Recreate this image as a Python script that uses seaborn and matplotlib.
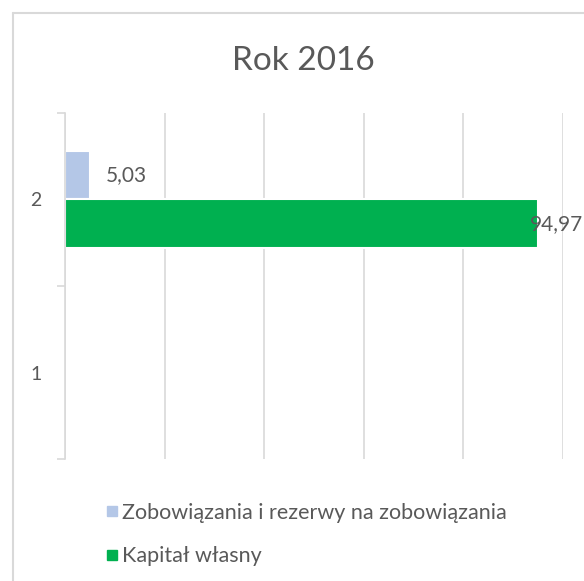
import numpy as np
import pandas as pd
import matplotlib.pyplot as plt
from matplotlib.lines import Line2D
import seaborn as sns

# data
categories = ["1", "2"]
series_names = ["Zobowiązania i rezerwy na zobowiązania", "Kapitał własny"]
liabilities = [np.nan, 5.03]
equity = [np.nan, 94.97]
colors = ["#B4C7E7", "#00B050"]
grid_ticks = [0, 20, 40, 60, 80, 100]

df = pd.DataFrame({
    "kategoria": categories * 2,
    "seria": [series_names[0]] * 2 + [series_names[1]] * 2,
    "wartosc": liabilities + equity,
})

sns.set_theme(style="white")
plt.rcParams["font.family"] = ["Lato", "DejaVu Sans"]
text_col = "#595959"
grid_col = "#D9D9D9"

fig = plt.figure(figsize=(5.84, 5.81), dpi=100)
W, H = 584, 581
ax = fig.add_axes([65 / W, 1 - 459 / H, (563 - 65) / W, (459 - 113) / H])

sns.barplot(data=df, x="wartosc", y="kategoria", hue="seria",
            order=["2", "1"], hue_order=series_names, palette=colors,
            saturation=1, orient="h", width=0.56, edgecolor="white",
            linewidth=1.5, ax=ax, legend=True)

ax.set_xlim(0, 100)
ax.set_ylim(1.5, -0.5)
ax.set_xticks(grid_ticks)
ax.set_xticklabels([])
ax.tick_params(axis="x", length=0)
ax.xaxis.grid(True, color=grid_col, linewidth=1.2)
ax.set_axisbelow(True)
ax.set_xlabel("")
ax.set_ylabel("")

for s in ["top", "right", "bottom"]:
    ax.spines[s].set_visible(False)
ax.spines["left"].set_color(grid_col)
ax.spines["left"].set_linewidth(1.2)

ax.set_yticks([-0.5, 0.5, 1.5], minor=True)
ax.tick_params(axis="y", which="minor", length=6, color=grid_col, width=1.2, left=True)
ax.tick_params(axis="y", which="major", length=0, pad=17, labelsize=14, labelcolor=text_col)

pads = [11, -5.5]
for cont, pad in zip(ax.containers, pads):
    labs = ["" if np.isnan(v) else f"{v:.2f}".replace(".", ",") for v in cont.datavalues]
    ax.bar_label(cont, labels=labs, padding=pad, fontsize=15, color=text_col)

ax.get_legend().remove()
handles = [Line2D([], [], marker="s", linestyle="none", markersize=6.5,
                  markerfacecolor=c, markeredgecolor=c) for c in colors]
fig.legend(handles, series_names, loc="upper left",
           bbox_to_anchor=(92 / W, 1 - 492 / H), frameon=False,
           fontsize=15.5, labelcolor=text_col, handletextpad=0.0,
           labelspacing=1.1, borderpad=0, handlelength=0.9)

fig.text(303 / W, 1 - 61 / H, "Rok 2016", ha="center", va="center",
         fontsize=24, color=text_col)

# light frame of the chart area (left and top edges visible)
fig.add_artist(Line2D([12.5 / W, 12.5 / W], [0, 1 - 13 / H], transform=fig.transFigure,
                      color=grid_col, linewidth=1.5))
fig.add_artist(Line2D([12.5 / W, 1], [1 - 13 / H, 1 - 13 / H], transform=fig.transFigure,
                      color=grid_col, linewidth=1.5))

fig.savefig("out.png", dpi=100, facecolor="white")
